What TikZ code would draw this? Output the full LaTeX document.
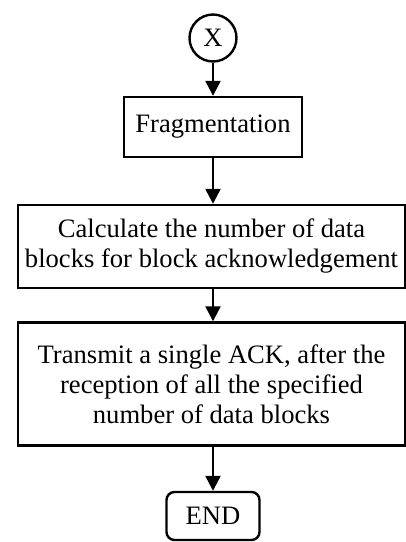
\documentclass[tikz,border=0pt]{standalone}
\usepackage{fontspec}
\setmainfont{Liberation Serif}
\usetikzlibrary{arrows.meta}

\begin{document}
\begin{tikzpicture}[x=0.5pt, y=-0.5pt, line width=1.2pt, font=\fontsize{13.3}{15}\selectfont,
  box/.style={draw, rectangle, align=center, inner sep=0pt},
  arr/.style={-{Triangle[width=7.5pt,length=7.5pt]}}]
\useasboundingbox (0,0) rectangle (406,542);
\node[box, circle, minimum size=23.5pt] (X) at (213,38) {X};
\node[box, minimum width=89pt, minimum height=30pt] (frag) at (213,127) {Fragmentation};
\node[box, minimum width=193.5pt, minimum height=41.5pt] (calc) at (211.5,246.5) {Calculate the number of data\\blocks for block acknowledgement};
\node[box, minimum width=193.5pt, minimum height=61.5pt] (tx) at (211.5,384) {Transmit a single ACK, after the\\reception of all the specified\\number of data blocks};
\node[box, rounded corners=4pt, minimum width=46.5pt, minimum height=24pt] (end) at (213,516) {END};
\draw[arr] (X) -- (frag);
\draw[arr] (frag) -- (calc.north -| frag);
\draw[arr] (calc.south -| frag) -- (tx.north -| frag);
\draw[arr] (tx.south -| frag) -- (end);
\end{tikzpicture}
\end{document}
